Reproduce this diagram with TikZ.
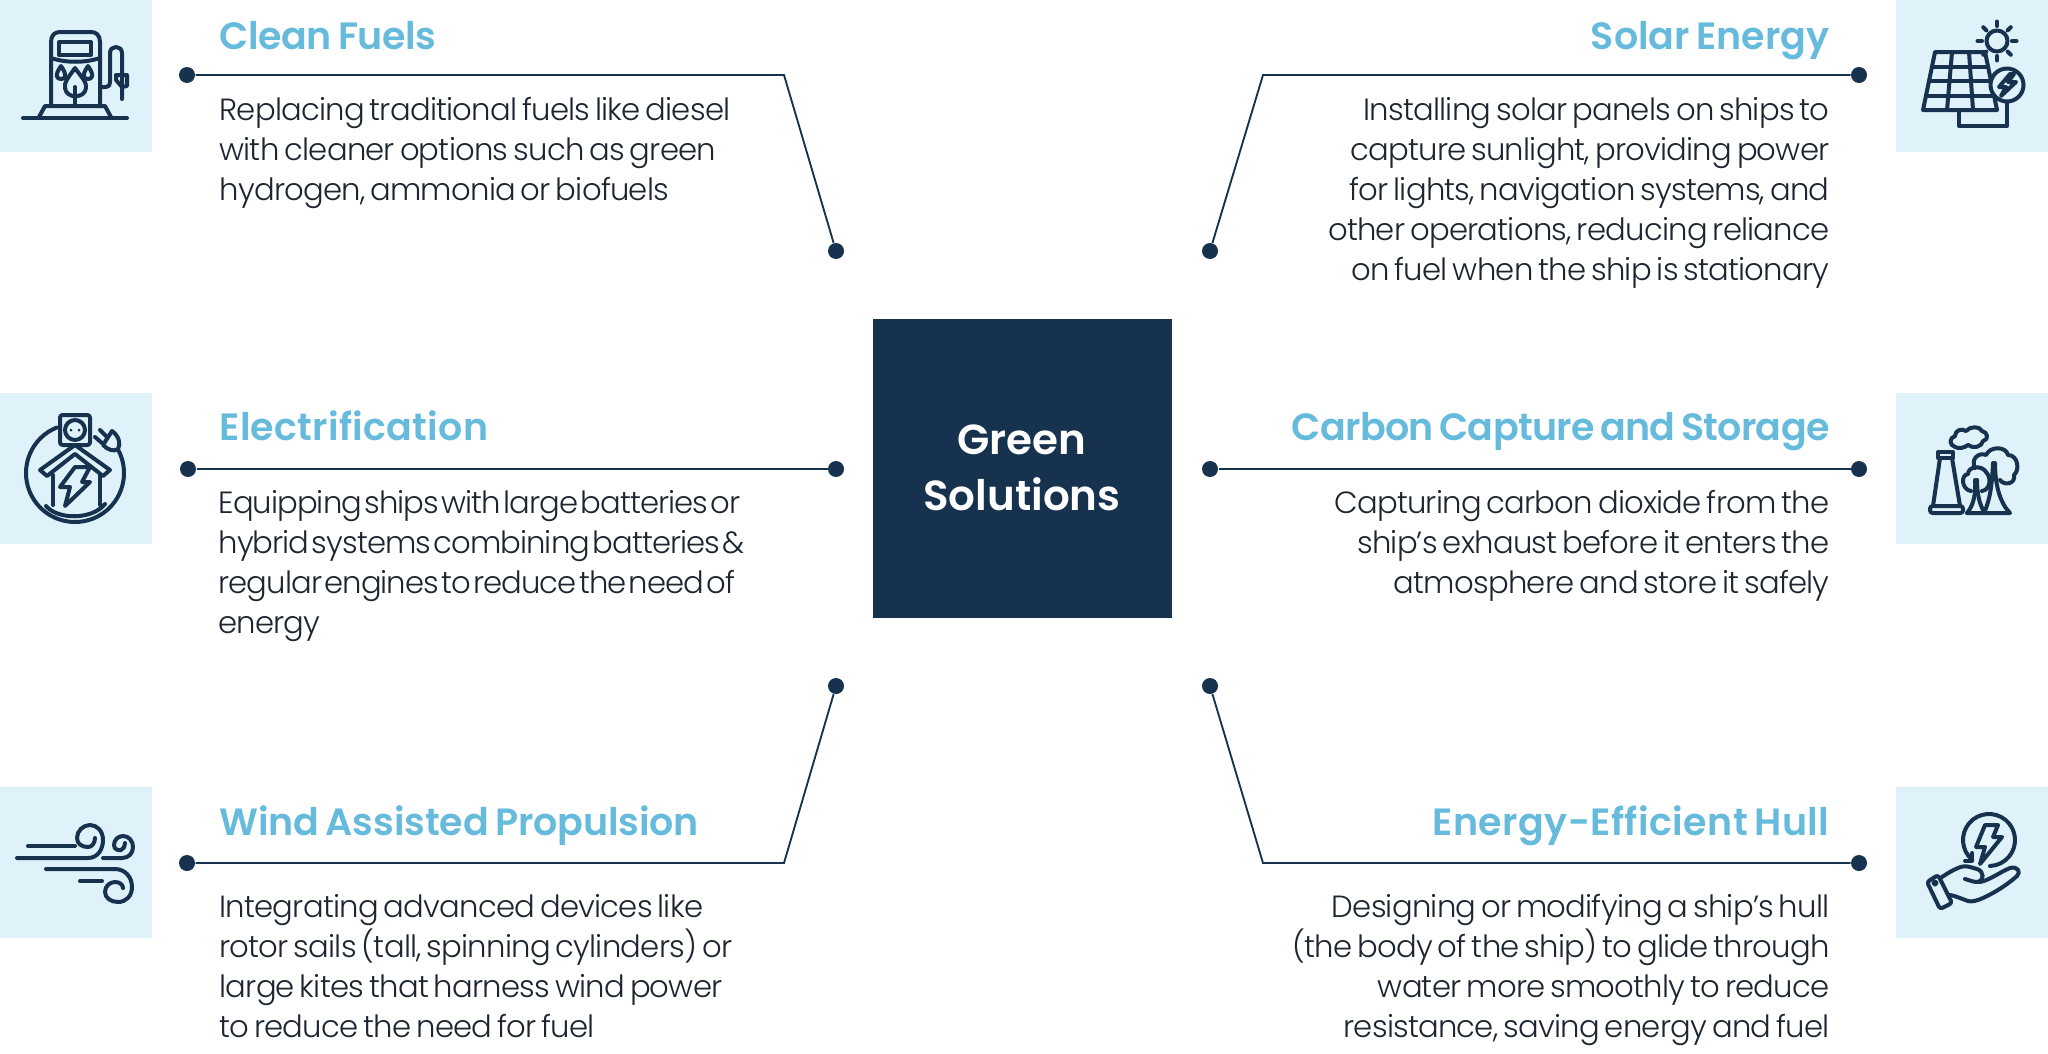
\documentclass[tikz,border=0pt]{standalone}
\usepackage{fontspec}
\usetikzlibrary{calc}
\setmainfont{Poppins}[UprightFont=* Light,LetterSpace=-2.5,WordSpace=0.65]
\newfontfamily\tightfont{Poppins}[UprightFont=* Light,LetterSpace=-3,WordSpace=0.3]
\newfontfamily\headfont{Poppins}[UprightFont=* SemiBold,LetterSpace=-1,WordSpace=0.7]
\newfontfamily\boxfont{Poppins}[UprightFont=* SemiBold]
\definecolor{navy}{HTML}{16324F}
\definecolor{skytext}{HTML}{66BBDD}
\definecolor{iconbg}{HTML}{DFF1F9}
\definecolor{bodyink}{HTML}{1C2530}
\tikzset{every picture/.style={line width=0.75pt}}
\tikzset{
  headleft/.style={anchor=base west,font=\fontsize{28.5}{30}\headfont,text=skytext,inner sep=0pt},
  headright/.style={anchor=base east,font=\fontsize{28.5}{30}\headfont,text=skytext,inner sep=0pt},
  bodyleft/.style={anchor=north west,align=left,font=\fontsize{23}{29.9}\selectfont,text=bodyink,inner sep=0pt},
  bodyright/.style={anchor=north east,align=right,font=\fontsize{23}{29.9}\selectfont,text=bodyink,inner sep=0pt},
  dot/.style={circle,fill=navy,inner sep=0pt,minimum size=12},
  link/.style={draw=navy,line width=1.4},
  glyph/.style={draw=navy,line width=3,line cap=round,line join=round}
}
\begin{document}
\begin{tikzpicture}[x=0.75pt,y=0.75pt,yscale=-1,xscale=1]
	\useasboundingbox (0,0) rectangle (2048,1053);

	%Centre box
	\node [fill=navy,text=white,minimum size=224.25,inner sep=0pt,align=center,font=\fontsize{31.5}{42}\boxfont] (centre) at (1022,468) {Green\\Solutions};

	%Icon backgrounds
	\fill [iconbg] (0,0) rectangle (152,152);
	\fill [iconbg] (1896,0) rectangle (2048,152);
	\fill [iconbg] (0,393) rectangle (152,544);
	\fill [iconbg] (1896,393) rectangle (2048,544);
	\fill [iconbg] (0,787) rectangle (152,938);
	\fill [iconbg] (1896,787) rectangle (2048,938);

	%Dots
	\node [dot] (fuelsA) at (187,75) {};
	\node [dot] (fuelsB) at (836,251) {};
	\coordinate (fuelsK) at (784,75);
	\node [dot] (solarA) at (1859,75) {};
	\node [dot] (solarB) at (1210,251) {};
	\coordinate (solarK) at (1263,75);
	\node [dot] (elecA) at (188,469) {};
	\node [dot] (elecB) at (836,469) {};
	\node [dot] (carbonA) at (1859,469) {};
	\node [dot] (carbonB) at (1210,469) {};
	\node [dot] (windA) at (187,863) {};
	\node [dot] (windB) at (836,686) {};
	\coordinate (windK) at (784,863);
	\node [dot] (hullA) at (1859,863) {};
	\node [dot] (hullB) at (1210,686) {};
	\coordinate (hullK) at (1263,863);

	%Connectors
	\draw [link] (fuelsA) -- (fuelsK) -- (fuelsB);
	\draw [link] (solarA) -- (solarK) -- (solarB);
	\draw [link] (elecA) -- (elecB);
	\draw [link] (carbonA) -- (carbonB);
	\draw [link] (windA) -- (windK) -- (windB);
	\draw [link] (hullA) -- (hullK) -- (hullB);

	%Left column text
	\node [headleft] (fuelsT) at (219,49) {Clean Fuels};
	\node [bodyleft] (fuelsD) at (219,97) {Replacing traditional fuels like diesel\\with cleaner options such as green\\hydrogen, ammonia or biofuels};
	\node [headleft] (elecT) at (219,440) {\addfontfeature{LetterSpace=0.8}Electrification};
	\node [bodyleft,font=\fontsize{23}{29.9}\tightfont] (elecD) at (218,490) {Equipping ships with large batteries or\\hybrid systems combining batteries \&\\regular engines to reduce the need of\\energy};
	\node [headleft] (windT) at (219,835) {\addfontfeature{LetterSpace=-0.3}Wind Assisted Propulsion};
	\node [bodyleft] (windD) at (219,894) {Integrating advanced devices like\\rotor sails (tall, spinning cylinders) or\\large kites that harness wind power\\to reduce the need for fuel};

	%Right column text
	\node [headright] (solarT) at (1830,49) {\addfontfeature{LetterSpace=0.1}Solar Energy};
	\node [bodyright] (solarD) at (1830,97) {Installing solar panels on ships to\\capture sunlight, providing power\\for lights, navigation systems, and\\other operations, reducing reliance\\on fuel when the ship is stationary};
	\node [headright] (carbonT) at (1830,440) {\addfontfeature{LetterSpace=-1.9}Carbon Capture and Storage};
	\node [bodyright] (carbonD) at (1830,490) {Capturing carbon dioxide from the\\ship’s exhaust before it enters the\\atmosphere and store it safely};
	\node [headright] (hullT) at (1830,835) {\addfontfeature{LetterSpace=1.2}Energy-Efficient Hull};
	\node [bodyright] (hullD) at (1830,894) {Designing or modifying a ship’s hull\\(the body of the ship) to glide through\\water more smoothly to reduce\\resistance, saving energy and fuel};

	%Fuel pump icon
	\draw [glyph] (23,118) -- (127,118);
	\draw [glyph] (39,117) -- (45,106) -- (105,106) -- (111,117);
	\draw [glyph] (51,106) -- (51,42) .. controls (51,35) and (55,32) .. (60,32) -- (91,32) .. controls (96,32) and (100,35) .. (100,42) -- (100,106);
	\draw [glyph] (59,42) rectangle (91,55);
	\draw [glyph] (51,58) .. controls (66,63) and (85,63) .. (100,58);
	\draw [glyph] (75,68) .. controls (68,78) and (64,82) .. (65,88) .. controls (66,99) and (85,99) .. (86,88) .. controls (87,82) and (82,78) .. (75,68) -- cycle;
	\draw [glyph] (75,105) -- (75,87);
	\draw [glyph] (61,66) .. controls (54,76) and (57,79) .. (61,79) .. controls (65,79) and (68,76) .. (61,66) -- cycle;
	\draw [glyph] (88,66) .. controls (81,76) and (84,79) .. (88,79) .. controls (92,79) and (95,76) .. (88,66) -- cycle;
	\draw [glyph] (100,87) -- (106,87) .. controls (109,87) and (110,85) .. (110,82) -- (110,53) .. controls (110,45) and (122,45) .. (122,53) -- (122,99);
	\draw [glyph] (116,75) -- (127,75) -- (127,86) -- (122,87) -- (116,80) -- cycle;

	%Solar panel icon
	\draw [glyph] (1935,52) -- (1985,52) -- (1997,110) -- (1923,110) -- cycle;
	\draw [glyph] (1932,67) -- (1988,67);
	\draw [glyph] (1929,81) -- (1993,81);
	\draw [glyph] (1926,96) -- (1995,96);
	\draw [glyph] (1952,52) -- (1947,110);
	\draw [glyph] (1969,52) -- (1973,110);
	\draw [glyph] (1959,111) -- (1959,126) -- (2007,126) -- (2007,101);
	\draw [glyph,fill=iconbg] (2007,85) circle (16.5);
	\draw [glyph] (2010,74) -- (1999,87) -- (2006,87) -- (2001,96) -- (2016,82) -- (2008,82) -- (2014,74) -- cycle;
	\draw [glyph] (1997,41) circle (10.5);
	\foreach \a in {0,45,...,315}
		\draw [glyph] ($(1997,41)+(\a:15)$) -- ($(1997,41)+(\a:19.5)$);

	%House icon
	\draw [glyph] (75,473) ++(-112:49) arc (-112:-387:49);
	\draw [glyph] (46,506) .. controls (58,520) and (92,520) .. (105,504);
	\draw [glyph,rounded corners=2] (60,415) rectangle (90,445);
	\draw [glyph] (75,430) circle (10);
	\fill [navy] (71,430) circle (1.5) (79,430) circle (1.5);
	\draw [glyph] (40,470) -- (75,445) -- (110,470) -- (103,476) -- (75,454) -- (47,476) -- cycle;
	\draw [glyph] (53,475) -- (53,505);
	\draw [glyph] (100,475) -- (100,505);
	\draw [glyph] (75,467) -- (90,467) -- (82,482) -- (90,482) -- (65,506) -- (70,487) -- (60,487) -- cycle;
	\draw [glyph] (103,445) -- (112,431) .. controls (119,436) and (121,444) .. (118,449) .. controls (114,452) and (108,450) .. (103,445) -- cycle;
	\draw [glyph] (95,437) -- (102,443);
	\draw [glyph] (100,430) -- (107,437);

	%Chimney and trees icon
	\draw [glyph] (1938,452) rectangle (1953,458);
	\draw [glyph] (1940,458) -- (1933,506);
	\draw [glyph] (1952,458) -- (1960,506);
	\draw [glyph,rounded corners=2] (1930,506) rectangle (1963,513);
	\draw [glyph] (1955,447) .. controls (1949,445) and (1949,438) .. (1955,436) .. controls (1955,430) and (1962,428) .. (1966,431) .. controls (1970,426) and (1980,426) .. (1982,431) .. controls (1988,432) and (1989,440) .. (1983,441) .. controls (1982,447) and (1973,449) .. (1968,445) .. controls (1964,448) and (1959,449) .. (1955,447) -- cycle;
	\draw [glyph] (1975,468) .. controls (1970,458) and (1980,452) .. (1986,455) .. controls (1990,446) and (2006,446) .. (2008,455) .. controls (2018,455) and (2020,470) .. (2014,475) .. controls (2016,484) and (2004,486) .. (2000,480);
	\draw [glyph] (1993,463) .. controls (1992,485) and (1990,500) .. (1984,513);
	\draw [glyph] (1995,463) .. controls (1995,485) and (2000,503) .. (2010,513) -- (1967,513);
	\draw [glyph] (1971,491) .. controls (1962,490) and (1960,475) .. (1968,474) .. controls (1968,466) and (1982,465) .. (1986,472) .. controls (1992,478) and (1990,490) .. (1982,491);
	\draw [glyph] (1975,480) .. controls (1976,492) and (1974,505) .. (1967,513);
	\draw [glyph] (1977,480) .. controls (1977,492) and (1979,505) .. (1985,513);

	%Wind icon
	\draw [glyph] (28,846) -- (75,846);
	\draw [glyph] (17,858) -- (88,858) .. controls (98,858) and (103,849) .. (103,840) .. controls (103,831) and (97,825) .. (90,825) .. controls (83,825) and (77,831) .. (77,838) .. controls (77,844) and (82,847) .. (88,847) .. controls (92,847) and (95,843) .. (95,838);
	\draw [glyph] (103,858) -- (122,858) .. controls (129,858) and (133,853) .. (133,847) .. controls (133,841) and (129,836) .. (123,836) .. controls (118,836) and (114,840) .. (114,845) .. controls (114,849) and (118,851) .. (121,850) .. controls (124,849) and (125,846) .. (125,843);
	\draw [glyph] (46,869) -- (115,869) .. controls (125,869) and (132,877) .. (132,887) .. controls (132,896) and (126,902) .. (118,902) .. controls (111,902) and (105,898) .. (105,892) .. controls (105,886) and (110,882) .. (115,882) .. controls (120,882) and (123,885) .. (123,888);
	\draw [glyph] (80,881) -- (102,881);

	%Hand icon
	\draw [glyph] (1942,877) .. controls (1948,873) and (1953,870) .. (1958,868) .. controls (1962,866) and (1966,866) .. (1970,867) -- (1977,869) .. controls (1984,871) and (1985,881) .. (1977,882) .. controls (1973,882) and (1969,880) .. (1965,879);
	\draw [glyph] (1980,882) .. controls (1990,880) and (2000,872) .. (2010,868) .. controls (2018,866) and (2021,872) .. (2017,876) .. controls (2008,884) and (1996,892) .. (1983,898) .. controls (1976,901) and (1972,902) .. (1968,901) .. controls (1962,899) and (1956,896) .. (1950,895);
	\draw [glyph,rounded corners=2] (1927,882) -- (1938,875) -- (1952,903) -- (1940,909) -- cycle;
	\draw [glyph] (1935,883) circle (1.5);
	\draw [glyph] (1989,840) ++(130:26) arc (130:448:26);
	\draw [glyph] (1965,861) -- (1972,861) -- (1972,853);
	\draw [glyph] (1985,825) -- (1998,825) -- (1993,837) -- (2002,837) -- (1980,864) -- (1985,847) -- (1976,847) -- cycle;
\end{tikzpicture}
\end{document}
